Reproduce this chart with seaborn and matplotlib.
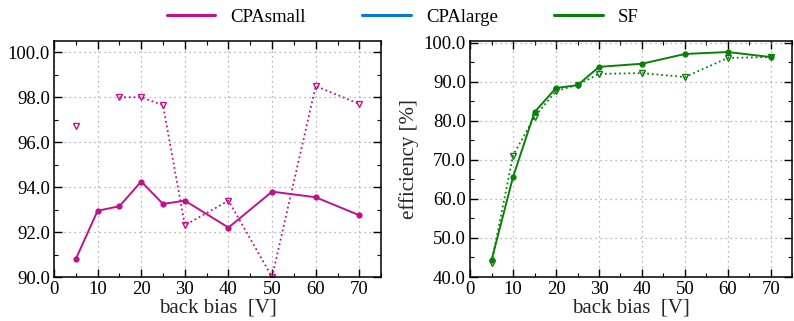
import numpy as np
import pandas as pd
import matplotlib
matplotlib.use("Agg")
import matplotlib.pyplot as plt
from matplotlib.lines import Line2D
from matplotlib.ticker import MultipleLocator, FormatStrFormatter
import seaborn as sns

# back bias values [V]
bias = [5, 10, 15, 20, 25, 30, 40, 50, 60, 70]

# CPAsmall efficiency [%]
cpa_small_solid = [90.8, 92.95, 93.15, 94.25, 93.25, 93.4, 92.2, 93.8, 93.55, 92.75]
cpa_small_dotted = [96.7, np.nan, 98.0, 98.0, 97.65, 92.3, 93.4, 90.0, 98.5, 97.7]

# SF efficiency [%]
sf_solid = [44.3, 65.6, 82.2, 88.4, 89.1, 93.8, 94.6, 97.1, 97.6, 96.3]
sf_dotted = [43.7, 71.1, 81.0, 87.6, 89.2, 92.0, 92.2, 91.2, 96.1, 96.3]

series_names = ["CPAsmall", "CPAlarge", "SF"]
colors = {"CPAsmall": "#c0128c", "CPAlarge": "#0a78d8", "SF": "#0a800a"}

sns.set_style("ticks")
plt.rcParams["font.family"] = ["Liberation Serif", "DejaVu Serif"]
plt.rcParams["font.size"] = 13.5
plt.rcParams["text.color"] = "black"


def to_frame(values):
    df = pd.DataFrame({"bias": bias, "eff": values})
    # split into segments where a value is missing so the line breaks there
    df["seg"] = df["eff"].isna().cumsum()
    return df.dropna()


fig = plt.figure(figsize=(7.94, 3.21), dpi=100)
ax1 = fig.add_axes([0.068, 0.137, 0.412, 0.735])
ax2 = fig.add_axes([0.592, 0.137, 0.406, 0.735])


def draw(ax, solid, dotted, color):
    sns.lineplot(data=to_frame(solid), x="bias", y="eff", units="seg", estimator=None,
                 ax=ax, color=color, lw=1.4, marker="o", markersize=4.5,
                 markeredgewidth=0)
    sns.lineplot(data=to_frame(dotted), x="bias", y="eff", units="seg", estimator=None,
                 ax=ax, color=color, lw=1.3, ls=(0, (1, 1.6)), marker="v", markersize=4.5,
                 markerfacecolor="none", markeredgecolor=color, markeredgewidth=1.0)


draw(ax1, cpa_small_solid, cpa_small_dotted, colors["CPAsmall"])
draw(ax2, sf_solid, sf_dotted, colors["SF"])

ax1.set_ylim(90, 100.5)
ax1.yaxis.set_major_locator(MultipleLocator(2))
ax1.yaxis.set_minor_locator(MultipleLocator(1))
ax1.set_ylabel("")

ax2.set_ylim(40, 100.4)
ax2.yaxis.set_major_locator(MultipleLocator(10))
ax2.yaxis.set_minor_locator(MultipleLocator(5))
ax2.set_ylabel("efficiency [%]", fontsize=15, labelpad=3)

for ax in (ax1, ax2):
    ax.set_xlim(0, 75)
    ax.xaxis.set_major_locator(MultipleLocator(10))
    ax.xaxis.set_minor_locator(MultipleLocator(5))
    ax.yaxis.set_major_formatter(FormatStrFormatter("%.1f"))
    ax.set_xlabel("back bias  [V]", fontsize=15, labelpad=0)
    ax.grid(True, which="major", color="#a0a0a0", ls=(0, (1, 3)), lw=0.9)
    ax.tick_params(which="both", direction="in", top=True, right=True, colors="black",
                   labelcolor="black", labelsize=13.5, pad=3)
    ax.tick_params(which="major", length=6, width=1.0)
    ax.tick_params(which="minor", length=3, width=0.8)
    for sp in ax.spines.values():
        sp.set_visible(True)
        sp.set_linewidth(1.1)
        sp.set_color("black")

handles = [Line2D([], [], color=colors[n], lw=2.2) for n in series_names]
fig.legend(handles, series_names, loc="upper center", bbox_to_anchor=(0.507, 1.025),
           ncol=3, frameon=False, fontsize=13.5, handlelength=2.6, columnspacing=3.0)

fig.savefig("out.png", dpi=100)
